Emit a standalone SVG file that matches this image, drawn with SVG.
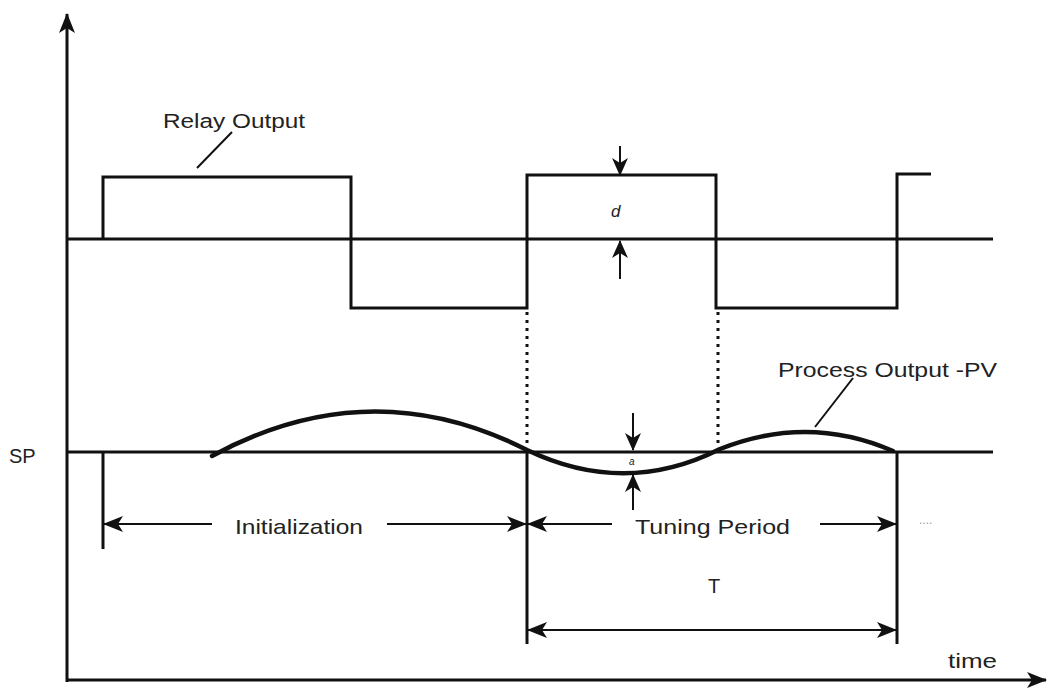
<svg xmlns="http://www.w3.org/2000/svg" width="1055" height="690" viewBox="0 0 1055 690">
<defs>
<style>
.ln{stroke:#111;stroke-width:3;fill:none}
.th{stroke:#111;stroke-width:2;fill:none}
.pv{stroke:#111;stroke-width:4.5;fill:none;stroke-linecap:round}
.dot{stroke:#111;stroke-width:3;fill:none;stroke-dasharray:3 5}
.tx{font-family:"Liberation Sans",Arial,sans-serif;fill:#222}
</style>
<marker id="ah" viewBox="0 0 20 16" refX="19" refY="8" markerWidth="20" markerHeight="16" markerUnits="userSpaceOnUse" orient="auto">
<path d="M0,0 L20,8 L0,16 L5,8 Z" fill="#111"/>
</marker>
<marker id="ahs" viewBox="0 0 18 16" refX="17" refY="8" markerWidth="18" markerHeight="16" markerUnits="userSpaceOnUse" orient="auto">
<path d="M0,0 L18,8 L0,16 L5,8 Z" fill="#111"/>
</marker>
</defs>
<rect width="1055" height="690" fill="#fff"/>

<g id="axes">
<line class="ln" x1="67" y1="682" x2="67" y2="14" marker-end="url(#ah)"/>
<line class="ln" x1="67" y1="680" x2="1046" y2="680" marker-end="url(#ah)"/>
<text class="tx" x="948" y="668" font-size="21" textLength="49" lengthAdjust="spacingAndGlyphs">time</text>
</g>

<g id="relay">
<line class="ln" x1="67" y1="239" x2="993" y2="239"/>
<polyline class="ln" points="103,239 103,177 351,177 351,308 527,308 527,175 716,175 716,308 897,308 897,174 931,174"/>
<line class="th" x1="197" y1="168" x2="232" y2="132"/>
<text class="tx" x="163" y="128" font-size="20" textLength="142" lengthAdjust="spacingAndGlyphs">Relay Output</text>
</g>

<g id="relay-amplitude">
<line class="th" x1="620" y1="146" x2="620" y2="175" marker-end="url(#ahs)"/>
<line class="th" x1="620" y1="279" x2="620" y2="241" marker-end="url(#ahs)"/>
<text class="tx" x="611" y="217" font-size="17" font-style="italic">d</text>
</g>

<g id="dotted">
<line class="dot" x1="527" y1="312" x2="527" y2="448"/>
<line class="dot" x1="718" y1="312" x2="718" y2="446"/>
</g>

<g id="process">
<line class="ln" x1="67" y1="452" x2="993" y2="452"/>
<text class="tx" x="9" y="463" font-size="20">SP</text>
<path class="pv" d="M212,456 Q370,370 527,450 Q625,497 720,449 Q808,414 893,451"/>
<line class="th" x1="815" y1="427" x2="853" y2="378"/>
<text class="tx" x="778" y="377" font-size="21" textLength="219" lengthAdjust="spacingAndGlyphs">Process Output -PV</text>
</g>

<g id="pv-amplitude">
<line class="th" x1="633" y1="413" x2="633" y2="450" marker-end="url(#ahs)"/>
<line class="th" x1="633" y1="510" x2="633" y2="475" marker-end="url(#ahs)"/>
<text class="tx" x="629" y="465" font-size="10" font-style="italic">a</text>
</g>

<g id="periods">
<line class="ln" x1="103" y1="452" x2="103" y2="549"/>
<line class="ln" x1="527" y1="452" x2="527" y2="644"/>
<line class="ln" x1="897" y1="452" x2="897" y2="644"/>
<line class="th" x1="212" y1="524" x2="104" y2="524" marker-end="url(#ah)"/>
<line class="th" x1="387" y1="524" x2="526" y2="524" marker-end="url(#ah)"/>
<text class="tx" x="235" y="534" font-size="21" textLength="128" lengthAdjust="spacingAndGlyphs">Initialization</text>
<line class="th" x1="612" y1="524" x2="528" y2="524" marker-end="url(#ah)"/>
<line class="th" x1="820" y1="524" x2="896" y2="524" marker-end="url(#ah)"/>
<text class="tx" x="635" y="534" font-size="21" textLength="155" lengthAdjust="spacingAndGlyphs">Tuning Period</text>
<text class="tx" x="919" y="524" font-size="12" style="fill:#999">....</text>
<line class="th" x1="712" y1="630" x2="528" y2="630" marker-end="url(#ah)"/>
<line class="th" x1="712" y1="630" x2="896" y2="630" marker-end="url(#ah)"/>
<text class="tx" x="708" y="593" font-size="20">T</text>
</g>
</svg>
